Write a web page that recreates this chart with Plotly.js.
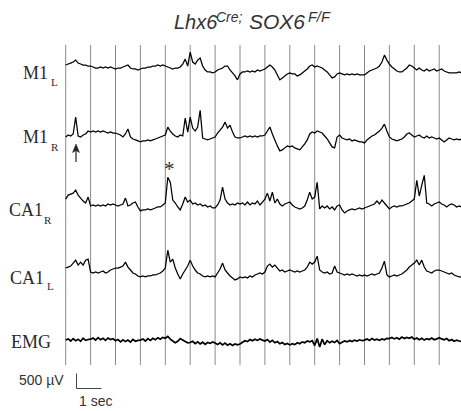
<!DOCTYPE html>
<html><head><meta charset="utf-8">
<script src="https://cdn.plot.ly/plotly-3.0.1.min.js"></script>
<style>html,body{margin:0;padding:0;background:#fff}#chart{width:461px;height:411px}</style>
</head><body><div id="chart"></div>
<script>
// ---- data (µV, sampled every 0.1 s) ----
const sampleInterval = 0.1; // seconds
const secondMarks = [0,1,2,3,4,5,6,7,8,9,10,11,12,13,14,15];
const scaleBarUV = 500;
const scaleBarSec = 1;

const m1L = [
 99,132,165,198,264,165,132,99,99,66,
 66,33,0,0,33,0,33,0,33,0,
 -33,0,0,33,66,99,0,-33,-33,-66,
 -33,0,0,33,33,66,66,99,66,99,
 66,33,0,-33,0,0,33,132,297,66,
 528,198,132,264,330,66,-66,-132,-132,-165,
 -132,-66,-33,0,66,66,-66,-165,-264,-396,
 -198,-132,-132,-99,-132,-99,-132,-66,-99,-66,
 -33,33,99,33,-66,-231,-396,-330,-264,-198,
 -165,-198,-198,-264,-231,-165,-99,-33,66,99,
 33,66,33,0,-66,-132,-231,-330,-297,-198,
 -165,-198,-231,-198,-231,-198,-231,-198,-231,-231,
 -231,-165,-99,-66,-33,0,66,198,429,264,
 132,33,-33,-99,-132,-132,-66,0,99,66,
 0,-66,0,-66,-99,-33,-99,-66,-33,-99,
 -66,-33,-99,-132,-165,-165,-165,-165,-132,-165
];
const m1R = [
 -66,0,-33,33,594,-33,-66,0,33,132,
 99,132,99,132,99,132,99,66,99,66,
 66,33,0,-66,33,198,-66,-132,-165,-198,
 -231,-198,-198,-165,-198,-165,-132,-99,-66,-33,
 0,264,132,33,-33,-66,0,-33,561,99,
 594,231,132,264,825,-99,-132,-165,-132,-99,
 -66,66,165,264,429,231,330,99,-66,-99,
 -99,-66,-33,-66,-33,-66,-33,-66,-33,-33,
 0,132,264,33,-165,-363,-528,-495,-429,-363,
 -396,-363,-429,-462,-495,-396,-297,-165,33,99,
 66,132,99,66,-33,-132,-264,-396,-429,-66,
 0,-99,-132,-165,-132,-198,-165,-198,-231,-231,
 -264,-165,-99,-33,0,66,132,231,363,132,
 -66,-132,-165,-198,-165,-132,-66,33,66,0,
 -66,-33,0,-66,-99,-33,-99,-66,-99,-132,
 -99,-165,-231,-165,-99,-132,-165,-132,-165,-132
];
const ca1R = [
 198,330,363,396,495,330,231,132,66,264,
 -33,0,-33,0,-33,0,-33,33,0,33,
 0,-33,0,33,231,-33,0,66,99,-66,
 -198,-165,-165,-132,-165,-132,-99,-66,-66,0,
 66,924,759,165,66,-66,-165,33,264,99,
 165,33,66,0,33,-33,0,-66,-33,-99,
 -99,0,165,594,198,66,0,33,0,66,
 33,66,0,99,0,66,33,132,0,99,
 198,396,132,429,66,198,33,-33,33,66,
 99,0,-66,-99,-132,-99,-33,165,429,198,
 264,759,-132,-33,-99,-33,-132,-66,-165,-33,
 0,-165,-264,-198,-165,-132,-165,-132,-99,-132,
 -99,-66,-33,0,33,132,33,165,66,-33,
 -132,-66,-33,-66,-33,-33,0,33,66,132,
 198,825,297,660,990,66,33,-33,33,66,
 99,33,0,-66,0,33,0,-66,-33,-66
];
const ca1L = [
 132,165,198,297,396,231,330,231,396,429,
 0,-33,0,-33,0,33,-33,0,66,99,
 132,132,165,198,330,165,66,-33,-66,-132,
 -165,-132,-165,-132,-132,-99,-99,-66,-33,33,
 132,726,330,429,132,-66,-231,-66,66,198,
 396,198,66,-33,-66,-132,-165,-132,-165,-132,
 -165,-33,99,297,66,-33,-132,-198,-264,-231,
 -165,-198,-165,-198,-132,-165,-99,-66,-33,-66,
 0,198,264,165,231,132,33,66,0,33,
 66,33,0,33,0,33,66,165,330,264,
 330,528,66,0,-33,0,-66,-33,198,0,
 -33,-66,-99,-66,-99,-66,-99,-132,-99,-132,
 -99,-132,-99,-66,-99,-66,-33,132,363,-99,
 -165,-132,-99,-132,-99,-66,0,66,165,231,
 297,396,231,396,165,33,0,-33,33,66,
 66,33,0,-33,-66,-33,-99,-132,-165,-165
];
const emg = [
 30,70,0,80,10,60,-10,90,20,50,
 60,100,30,110,40,90,20,100,50,80,
 10,50,-30,40,-20,30,-40,50,-10,20,
 30,70,0,80,20,90,40,110,60,120,
 90,150,60,0,-60,-10,80,30,-20,-60,
 -50,-10,-90,-30,-100,-40,-110,-50,-80,-30,
 -70,-120,-60,-130,-70,-140,-90,-150,-100,-130,
 -100,-40,10,-20,50,10,60,20,70,30,
 0,50,-40,20,-60,-20,-90,-50,-120,-80,
 -130,-90,-120,-60,-90,-30,-60,0,-30,10,
 -150,80,-200,60,-120,10,-60,-10,-50,20,
 -90,-40,0,-30,20,-20,30,0,40,10,
 30,70,20,80,30,60,20,70,40,90,
 80,120,70,110,60,130,80,120,90,130,
 60,100,40,90,30,80,50,100,40,70,
 110,70,40,80,10,50,-10,30,0,-20
];

const channels = [
  {name:'M1',  sub:'L', values:m1L},
  {name:'M1',  sub:'R', values:m1R},
  {name:'CA1', sub:'R', values:ca1R},
  {name:'CA1', sub:'L', values:ca1L},
  {name:'EMG', sub:'',  values:emg}
];

// ---- layout geometry ----
const W = 461, H = 411;
const X0_PX = 65.7, PX_PER_SEC = 24.9, UV_PER_PX = 500/15;
const baselinesPx = [68, 135, 205, 272, 341];
const pxX = p => (p - X0_PX) / PX_PER_SEC;
const pxY = p => -p * UV_PER_PX;

const time = m1L.map((_, i) => Math.round(i * sampleInterval * 100) / 100);

const traces = channels.map((c, k) => ({
  type:'scatter', mode:'lines', x: time,
  y: c.values.map(v => pxY(baselinesPx[k]) + v),
  line:{color:'#000', width: k === 4 ? 1.7 : 1.25, simplify:false},
  hoverinfo:'skip', showlegend:false
}));

// scale bar
const sbX = pxX(76.5), sbY = pxY(388.5);
traces.push({
  type:'scatter', mode:'lines',
  x:[sbX, sbX, sbX + scaleBarSec],
  y:[sbY + scaleBarUV, sbY, sbY],
  line:{color:'#444', width:1}, hoverinfo:'skip', showlegend:false
});

const shapes = secondMarks.map(s => ({
  type:'line', xref:'x', yref:'y', x0:s, x1:s, y0:pxY(45), y1:pxY(365),
  line:{color:'#8a8a8a', width:1}, layer:'below'
}));

// arrow (shaft + head) under the first M1R spike
shapes.push({type:'line', xref:'x', yref:'y', x0:pxX(76), x1:pxX(76), y0:pxY(162), y1:pxY(149),
  line:{color:'#222', width:1.2}});
shapes.push({type:'path', xref:'x', yref:'y',
  path:`M${pxX(72.5)},${pxY(152.5)} L${pxX(76)},${pxY(144)} L${pxX(79.5)},${pxY(152.5)} L${pxX(76)},${pxY(150.5)} Z`,
  fillcolor:'#222', line:{color:'#222', width:0.5}});

const labelFont = {family:'Liberation Serif, Times New Roman, serif', size:18, color:'#2a2a2a'};
const subFont = {family:'Liberation Serif, Times New Roman, serif', size:11, color:'#2a2a2a'};
const labelPos = [[21,72.5],[21,137],[7,210],[8,277.5],[9,341.7]];
const subPos = [[48.5,82],[48.5,146.5],[41.5,220],[44.5,286],null];

const ann = [];
channels.forEach((c, k) => {
  ann.push({xref:'x', yref:'y', x:pxX(labelPos[k][0]), y:pxY(labelPos[k][1]),
    xanchor:'left', yanchor:'middle', text:c.name, showarrow:false, font:labelFont});
  if (c.sub) ann.push({xref:'x', yref:'y', x:pxX(subPos[k][0]), y:pxY(subPos[k][1]),
    xanchor:'left', yanchor:'middle', text:c.sub, showarrow:false, font:subFont});
});

const sans = 'Liberation Sans, Arial, sans-serif';
// title pieces
const titleMain = {family:sans, size:20, color:'#333', style:'italic'};
const titleSup = {family:sans, size:14, color:'#333', style:'italic'};
ann.push({xref:'x', yref:'y', x:pxX(172), y:pxY(21.7), xanchor:'left', yanchor:'middle',
  text:'Lhx6', showarrow:false, font:titleMain});
ann.push({xref:'x', yref:'y', x:pxX(214), y:pxY(16.5), xanchor:'left', yanchor:'middle',
  text:'Cre;', showarrow:false, font:titleSup});
ann.push({xref:'x', yref:'y', x:pxX(247), y:pxY(21.7), xanchor:'left', yanchor:'middle',
  text:'SOX6', showarrow:false, font:{...titleMain, size:21}});
ann.push({xref:'x', yref:'y', x:pxX(306), y:pxY(16.5), xanchor:'left', yanchor:'middle',
  text:'F/F', showarrow:false, font:{...titleSup, size:14.5}});

// asterisk
ann.push({xref:'x', yref:'y', x:pxX(169.5), y:pxY(168.5), xanchor:'center', yanchor:'middle',
  text:'*', showarrow:false, font:{family:'Liberation Serif, serif', size:21, color:'#333'}});

// scale bar texts
ann.push({xref:'x', yref:'y', x:pxX(16.5), y:pxY(380), xanchor:'left', yanchor:'middle',
  text:'500 µV', showarrow:false, font:{family:sans, size:14, color:'#333'}});
ann.push({xref:'x', yref:'y', x:pxX(76.5), y:pxY(400.5), xanchor:'left', yanchor:'middle',
  text:'1 sec', showarrow:false, font:{family:sans, size:14, color:'#333'}});

const layout = {
  width:W, height:H, margin:{l:0,r:0,t:0,b:0},
  paper_bgcolor:'#fff', plot_bgcolor:'#fff',
  xaxis:{range:[pxX(0), pxX(W)], visible:false, fixedrange:true},
  yaxis:{range:[pxY(H), pxY(0)], visible:false, fixedrange:true},
  shapes, annotations:ann, showlegend:false
};
Plotly.newPlot('chart', traces, layout, {displayModeBar:false, staticPlot:true});
</script></body></html>
